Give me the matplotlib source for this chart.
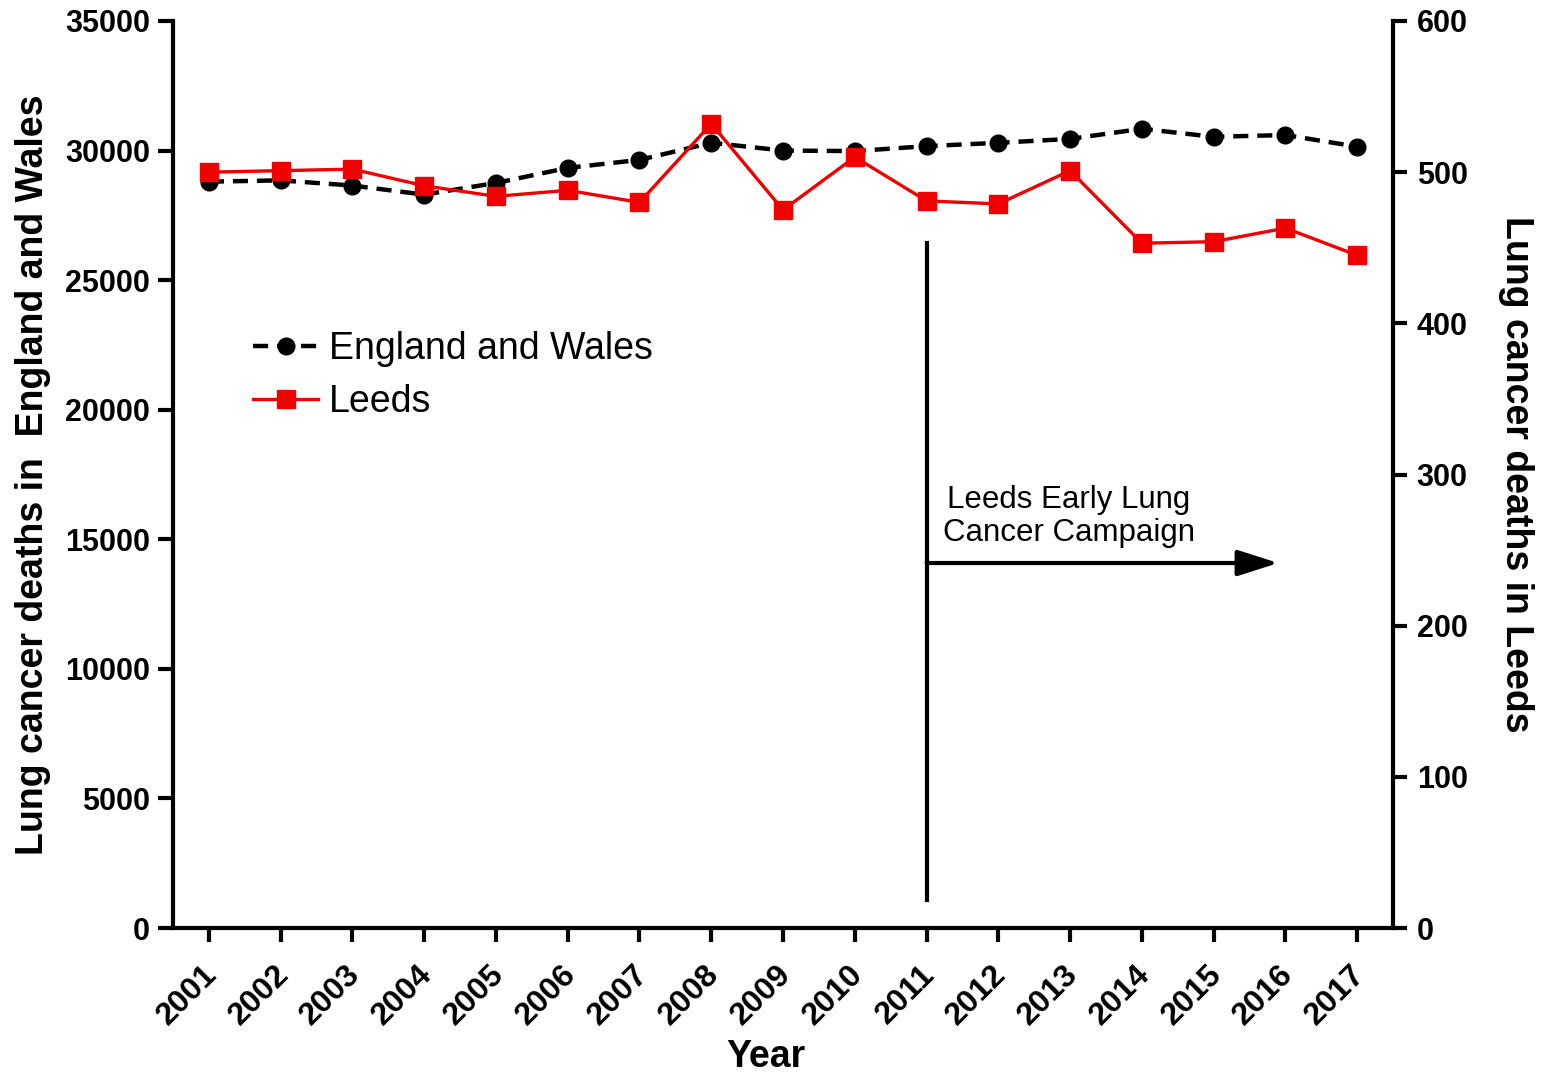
import matplotlib
matplotlib.use("Agg")
import matplotlib.pyplot as plt
from matplotlib.transforms import ScaledTranslation

plt.rcParams['font.family'] = ['Liberation Sans', 'DejaVu Sans']

years = list(range(2001, 2018))
england_wales = [28800, 28850, 28650, 28300, 28750, 29330, 29640, 30300,
                 30000, 29980, 30170, 30300, 30450, 30840, 30530, 30600, 30150]
leeds = [500, 501, 502, 491, 484, 488, 480, 532,
         475, 510, 481, 479, 501, 453, 454, 463, 445]

left_ticks = [0, 5000, 10000, 15000, 20000, 25000, 30000, 35000]
right_ticks = [0, 100, 200, 300, 400, 500, 600]

campaign_year = 2011
campaign_line = (1080, 26430)      # vertical marker extent (left-axis units)
arrow_y = 14085
arrow_end = 2015.9
campaign_text = "Leeds Early Lung\nCancer Campaign"

fig = plt.figure(figsize=(15.42, 10.76), dpi=100)
ax = fig.add_axes([0.1122, 0.1375, 0.7912, 0.843])
ax2 = ax.twinx()

lw_spine = 3
for a in (ax, ax2):
    for s in a.spines.values():
        s.set_linewidth(lw_spine)
    a.spines['top'].set_visible(False)
ax.spines['right'].set_visible(False)
ax2.spines['left'].set_visible(False)
ax2.spines['bottom'].set_visible(False)

ax.plot(years, england_wales, color='black', linestyle=(0, (3.4, 2.0)), linewidth=3.2,
        marker='o', markersize=12, label='England and Wales', zorder=3)
ax2.plot(years, leeds, color='#f00000', linestyle='-', linewidth=2.4,
         marker='s', markersize=13.5, label='Leeds', zorder=4)

ax.set_xlim(2000.5, 2017.5)
ax.set_ylim(0, 35000)
ax2.set_ylim(0, 600)

tick_font = dict(fontsize=22, fontweight='bold')
ax.set_xticks(years)
ax.set_xticklabels([str(y) for y in years], rotation=45, ha='right',
                   rotation_mode='anchor', fontsize=23, fontweight='bold')
ax.set_yticks(left_ticks)
ax.set_yticklabels([str(t) for t in left_ticks], **tick_font)
ax2.set_yticks(right_ticks)
ax2.set_yticklabels([str(t) for t in right_ticks], **tick_font)

ax.tick_params(axis='y', direction='out', length=11, width=3, pad=5.5)
ax.tick_params(axis='x', direction='out', length=10, width=3, pad=12.5)
ax2.tick_params(axis='y', direction='out', length=10, width=3, pad=7)

# nudge the slanted year labels slightly to the left of their ticks
shift = ScaledTranslation(-7 / 100, 0, fig.dpi_scale_trans)
for lbl in ax.get_xticklabels():
    lbl.set_transform(lbl.get_transform() + shift)

ax.set_xlabel('Year', fontsize=27, fontweight='bold', labelpad=6, x=0.486)
ax.set_ylabel('Lung cancer deaths in  England and Wales', fontsize=27,
              fontweight='bold', labelpad=10)
ax2.set_ylabel('Lung cancer deaths in Leeds', fontsize=27, fontweight='bold',
               rotation=-90, labelpad=48)

# campaign start marker and arrow
ax.plot([campaign_year, campaign_year], list(campaign_line), color='black',
        linewidth=3, zorder=2)
ax.annotate('', xy=(arrow_end, arrow_y), xytext=(campaign_year, arrow_y),
            arrowprops=dict(arrowstyle='-|>,head_length=2.5,head_width=0.8',
                            color='black', lw=3, shrinkA=0, shrinkB=0))
ax.text(2012.98, 14650, campaign_text, fontsize=22.5, ha='center', va='bottom',
        linespacing=1.15)

h1, l1 = ax.get_legend_handles_labels()
h2, l2 = ax2.get_legend_handles_labels()
ax.legend(h1 + h2, l1 + l2, loc='upper left', bbox_to_anchor=(0.038, 0.695),
          frameon=False, fontsize=27, handlelength=1.73, handletextpad=0.3,
          labelspacing=0.45)

fig.savefig('out.png', dpi=100)
